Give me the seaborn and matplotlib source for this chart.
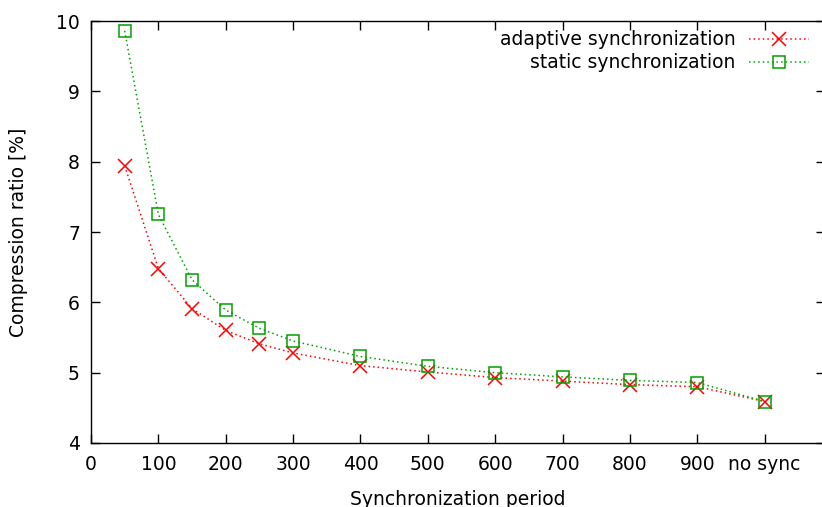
import matplotlib
matplotlib.use("Agg")
import matplotlib.pyplot as plt
import seaborn as sns
import pandas as pd

# Synchronization period (the last entry, "no sync", is placed at 1000)
periods = [50, 100, 150, 200, 250, 300, 400, 500, 600, 700, 800, 900, 1000]
adaptive = [7.94, 6.48, 5.91, 5.60, 5.41, 5.28, 5.10, 5.01, 4.93, 4.88, 4.83, 4.80, 4.59]
static = [9.86, 7.25, 6.32, 5.89, 5.63, 5.45, 5.23, 5.09, 5.00, 4.94, 4.89, 4.86, 4.59]

xtick_values = [0, 100, 200, 300, 400, 500, 600, 700, 800, 900, 1000]
xtick_labels = ["0", "100", "200", "300", "400", "500", "600", "700", "800", "900", "no sync"]
ytick_values = [4, 5, 6, 7, 8, 9, 10]

df = pd.DataFrame({
    "period": periods * 2,
    "ratio": adaptive + static,
    "method": ["adaptive synchronization"] * len(periods) + ["static synchronization"] * len(periods),
})

sns.set_theme(style="ticks")
plt.rcParams["font.family"] = ["DejaVu Sans"]
plt.rcParams["text.color"] = "black"
plt.rcParams["axes.labelcolor"] = "black"
FS = 13.5

fig = plt.figure(figsize=(8.22, 5.07), dpi=100)
ax = fig.add_axes([91 / 822, 64 / 507, 1.004 - 91 / 822, (443 - 21) / 507])

dotted = (0, (1, 2.0))
red = "#ff0000"
green = "#00a000"
sns.lineplot(data=df[df["method"] == "adaptive synchronization"], x="period", y="ratio",
             ax=ax, color=red, linestyle=dotted, linewidth=1.1,
             marker="x", markersize=10, markeredgecolor=red, markeredgewidth=1.1,
             label="adaptive synchronization")
sns.lineplot(data=df[df["method"] == "static synchronization"], x="period", y="ratio",
             ax=ax, color=green, linestyle=dotted, linewidth=1.1,
             marker="s", markersize=9, markerfacecolor="none", markeredgecolor=green,
             markeredgewidth=1.1, label="static synchronization")

ax.set_xlim(0, 1090)
ax.set_ylim(4, 10)
ax.set_xticks(xtick_values)
ax.set_xticklabels(xtick_labels)
ax.set_yticks(ytick_values)
ax.tick_params(axis="both", direction="in", length=6.5, width=1, colors="black",
               labelsize=FS, top=True, right=True)
ax.tick_params(axis="x", pad=9)
ax.tick_params(axis="y", pad=8)
for s in ax.spines.values():
    s.set_linewidth(1.0)
    s.set_color("black")

ax.set_xlabel("Synchronization period", fontsize=FS, labelpad=11)
ax.set_ylabel("Compression ratio [%]", fontsize=FS, labelpad=20)

leg = ax.legend(loc="upper right", markerfirst=False, frameon=False, fontsize=FS,
                handlelength=3.2, handletextpad=0.7, labelspacing=0.2,
                borderaxespad=0.1, bbox_to_anchor=(0.99, 1.0))
for col in leg._legend_handle_box.get_children():
    col.align = "right"

fig.savefig("out.png", dpi=100)
